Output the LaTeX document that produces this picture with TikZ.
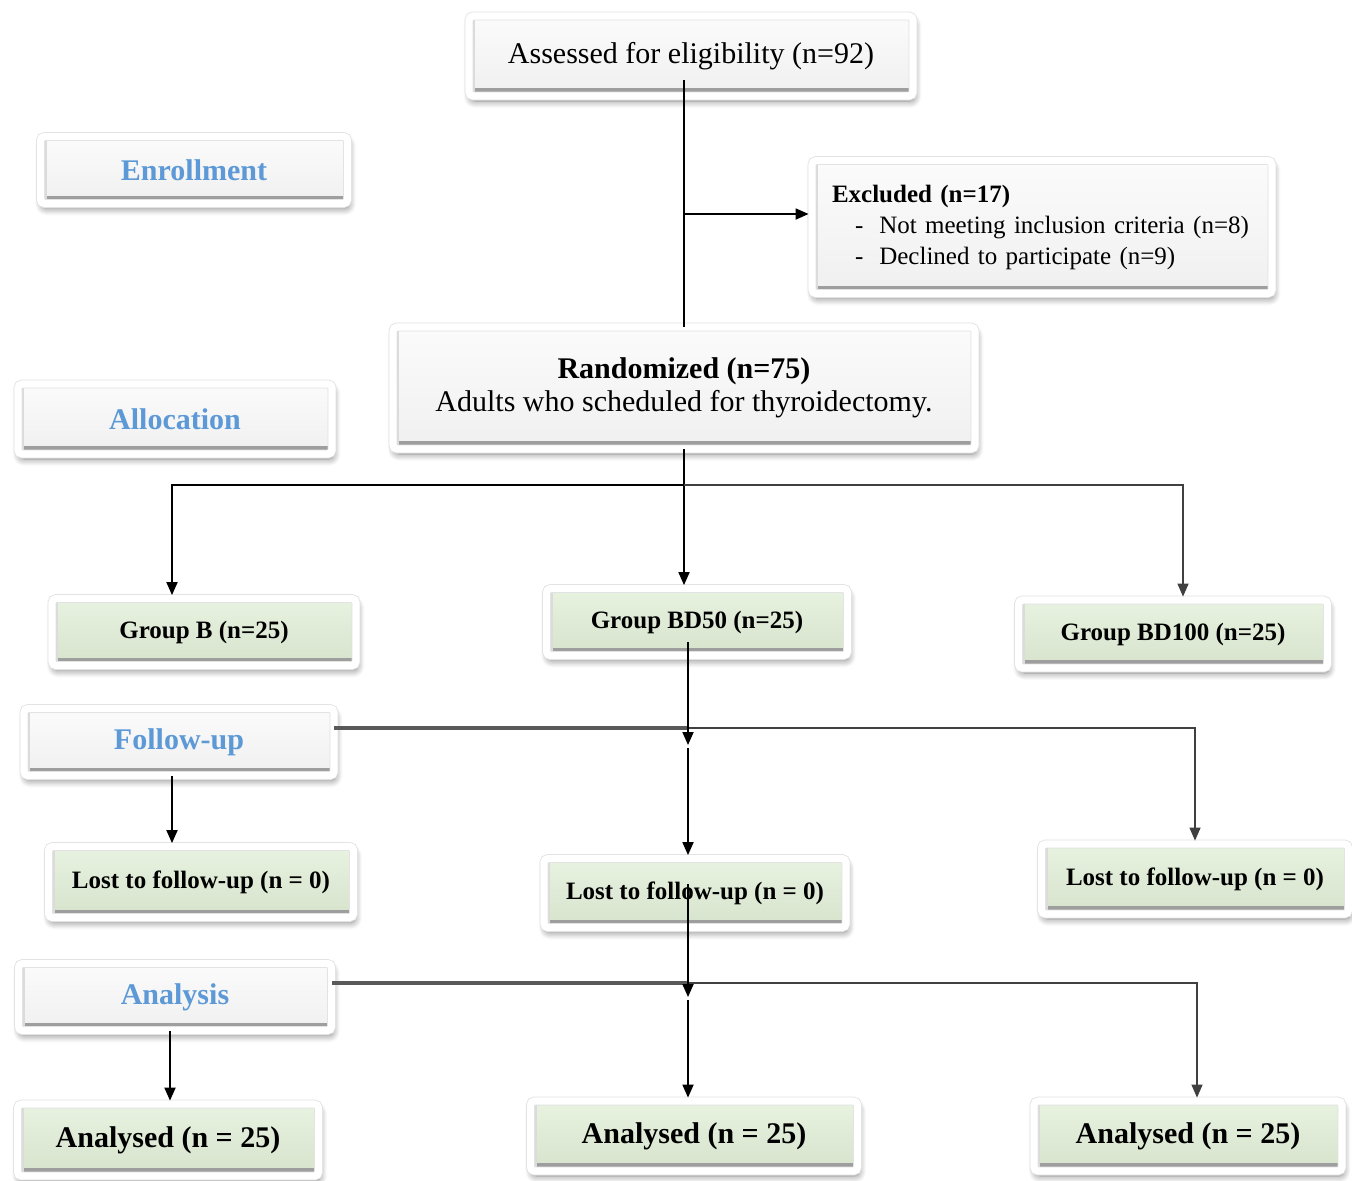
\documentclass[tikz,border=0pt]{standalone}
\usepackage{fontspec}
\setmainfont{Liberation Serif}
\usetikzlibrary{arrows.meta,shadows.blur}

\definecolor{labelblue}{rgb}{0.36,0.60,0.84}
\definecolor{greentop}{rgb}{0.91,0.95,0.88}
\definecolor{greenbot}{rgb}{0.84,0.89,0.80}
\definecolor{graytop}{rgb}{0.985,0.985,0.985}
\definecolor{graybot}{rgb}{0.94,0.94,0.94}

\tikzset{
  panel/.style={draw=black!12, line width=0.4pt, double=white, double distance=3.6pt,
    rounded corners=2pt, inner sep=0pt,
    blur shadow={shadow xshift=0.8pt, shadow yshift=-2.5pt, shadow blur radius=3.5pt, shadow blur steps=8, shadow opacity=50},
    path picture={
      \draw[black!38, line width=2pt] ([yshift=3pt]path picture bounding box.south west) -- ([yshift=3pt]path picture bounding box.south east);
      \draw[black!14, line width=1.2pt] ([xshift=2.6pt]path picture bounding box.south west) -- ([xshift=2.6pt]path picture bounding box.north west);
    }},
  graybox/.style={panel, top color=graytop, bottom color=graybot, font=\fontsize{15}{17.5}\selectfont},
  stagebox/.style={graybox, text=labelblue, font=\bfseries\fontsize{15}{17.5}\selectfont},
  greenbox/.style={panel, top color=greentop, bottom color=greenbot, font=\bfseries\fontsize{12.5}{15}\selectfont},
  conn/.style={black, line width=0.9pt},
  thinconn/.style={black!75, line width=0.6pt},
  darkconn/.style={black!65, line width=1.6pt},
  arr/.style={-{Triangle[width=5.5pt,length=6.5pt]}, shorten >=1.5pt},
}

\begin{document}
\begin{tikzpicture}[x=0.5pt, y=-0.5pt]
  \useasboundingbox (0,0) rectangle (1352,1180);

  % stage labels
  \node[stagebox, minimum width=153.5pt, minimum height=33.5pt] (enrol) at (194,170) {Enrollment};
  \node[stagebox, minimum width=157pt, minimum height=35pt] (alloc) at (175,419) {Allocation};
  \node[stagebox, minimum width=155pt, minimum height=33.5pt] (follow) at (179,742) {Follow-up};
  \node[stagebox, minimum width=156.5pt, minimum height=33.5pt] (analysis) at (175,997) {Analysis};

  % enrollment
  \node[graybox, minimum width=222pt, minimum height=40pt] (assess) at (691,56) {Assessed for eligibility (n=92)};
  \node[graybox, minimum width=230pt, minimum height=66.5pt, text width=210pt, align=left,
        font=\fontsize{12.5}{15.5}\selectfont] (excl) at (1042,227)
        {\textbf{Excluded (n=17)}\\
         \hspace*{11.5pt}-\hspace{8pt}Not meeting inclusion criteria (n=8)\\
         \hspace*{11.5pt}-\hspace{8pt}Declined to participate (n=9)};
  \node[graybox, minimum width=291pt, minimum height=61pt, align=center] (rand) at (684,388)
        {\textbf{Randomized (n=75)}\\[-1pt] Adults who scheduled for thyroidectomy.};

  % groups
  \node[greenbox, minimum width=152pt, minimum height=33.5pt] (grpB) at (204,632) {Group B (n=25)};
  \node[greenbox, minimum width=150.5pt, minimum height=33.5pt] (grpBD50) at (697,622) {Group BD50 (n=25)};
  \node[greenbox, minimum width=154.5pt, minimum height=34pt] (grpBD100) at (1173,634) {Group BD100 (n=25)};

  \node[greenbox, minimum width=152.5pt, minimum height=35.5pt] (lostB) at (201,882) {Lost to follow-up (n = 0)};
  \node[greenbox, minimum width=151pt, minimum height=34.5pt] (lostBD50) at (695,893) {Lost to follow-up (n = 0)};
  \node[greenbox, minimum width=153.5pt, minimum height=35pt] (lostBD100) at (1195,879) {Lost to follow-up (n = 0)};

  \node[greenbox, minimum width=150.5pt, minimum height=36pt, font=\bfseries\fontsize{15}{17.5}\selectfont] (anaB) at (168,1140) {Analysed (n = 25)};
  \node[greenbox, minimum width=163.5pt, minimum height=35pt, font=\bfseries\fontsize{15}{17.5}\selectfont] (anaBD50) at (694,1136) {Analysed (n = 25)};
  \node[greenbox, minimum width=154pt, minimum height=35pt, font=\bfseries\fontsize{15}{17.5}\selectfont] (anaBD100) at (1188,1136) {Analysed (n = 25)};

  % junctions
  \coordinate (assessout) at (684,80);
  \coordinate (exsplit) at (684,214);
  \coordinate (rsplit) at (684,485);
  \coordinate (bdout) at (688,642);
  \coordinate (fsplit) at (688,728);
  \coordinate (fmid) at (688,748);
  \coordinate (lostout) at (688,884);
  \coordinate (asplit) at (688,983);
  \coordinate (amid) at (688,1000);

  % enrollment to randomization
  \draw[conn] (assessout) -- (rand.north);
  \draw[conn, arr] (exsplit) -- (excl.west |- exsplit);

  % allocation
  \draw[conn] (rand.south) -- (rsplit);
  \draw[conn, arr] (rsplit) -| ([xshift=-16pt]grpB.north);
  \draw[conn, arr] (rsplit) -- (rsplit |- grpBD50.north);
  \draw[thinconn, arr] (rsplit) -| ([xshift=5pt]grpBD100.north);

  % follow-up
  \draw[darkconn] (follow.east |- fsplit) -- (fsplit);
  \draw[thinconn, arr] (fsplit) -| (lostBD100.north);
  \draw[conn, arr] (bdout) -- (fmid);
  \draw[conn, arr] (fmid) -- (fmid |- lostBD50.north);
  \draw[conn, arr] ([xshift=-3.5pt]follow.south) -- ([xshift=-3.5pt]follow.south |- lostB.north);

  % analysis
  \draw[darkconn] (analysis.east |- asplit) -- (asplit);
  \draw[thinconn, arr] (asplit) -| ([xshift=4.5pt]anaBD100.north);
  \draw[conn, arr] (lostout) -- (amid);
  \draw[conn, arr] (amid) -- (amid |- anaBD50.north);
  \draw[conn, arr] ([xshift=-2.5pt]analysis.south) -- ([xshift=-2.5pt]analysis.south |- anaB.north);
\end{tikzpicture}
\end{document}
